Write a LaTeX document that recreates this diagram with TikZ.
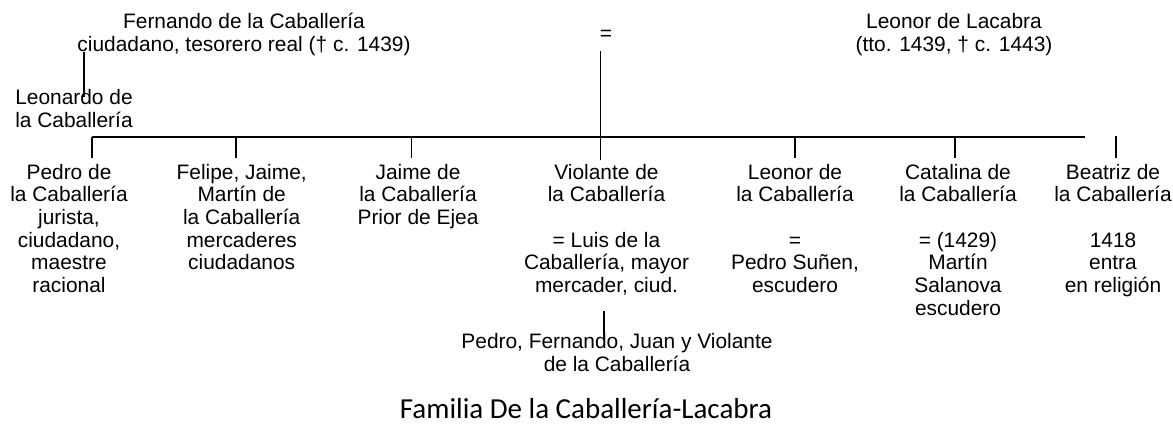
\documentclass[tikz,border=0pt]{standalone}
\usepackage{fontspec}
\setmainfont{Liberation Sans}
\newfontfamily\titlefont{Carlito}

\begin{document}
\begin{tikzpicture}[x=0.02cm, y=-0.02cm,
  person/.style={anchor=base, align=center, inner sep=0pt,
    font=\fontsize{11.9}{12.9}\selectfont},
  link/.style={black, line width=1.1pt}]
\useasboundingbox (0,0) rectangle (1173,432);
% --- parents (nodes sit on the baseline of their last line) ---
\node[person] (fernando) at (244,51.5) {Fernando de la Caballería\\ciudadano, tesorero real († c. 1439)};
\node[person] (lacabra) at (954,51.5) {Leonor de Lacabra\\(tto. 1439, † c. 1443)};
\node[person] (eq) at (606,41) {=};
\coordinate (eq-foot) at (600.5,51);
\coordinate (bar-mid) at (600.5,137);
\coordinate (bar-l) at (92,137);
\coordinate (bar-r) at (1085,137);
\draw[link] (eq-foot) -- (bar-mid);
\draw[link] (bar-l) -- (bar-r);
% --- Leonardo ---
\node[person] (leonardo) at (74,127.5) {Leonardo de\\la Caballería};
\coordinate (leo-top) at (84.3,52);
\coordinate (leo-end) at (84.3,97);
\draw[link] (leo-top) -- (leo-end);
% --- children ---
\node[person] (pedro) at (69,292.5) {Pedro de\\la Caballería\\jurista,\\ciudadano,\\maestre\\racional};
\node[person] (felipe) at (241.7,269.8) {Felipe, Jaime,\\Martín de\\la Caballería\\mercaderes\\ciudadanos};
\node[person] (jaime) at (418,224.4) {Jaime de\\la Caballería\\Prior de Ejea};
\node[person] (violante) at (606.5,292.5) {Violante de\\la Caballería\\[12.9pt]= Luis de la\\Caballería, mayor\\mercader, ciud.};
\node[person] (leonor) at (795,292.5) {Leonor de\\la Caballería\\[12.9pt]=\\Pedro Suñen,\\escudero};
\node[person] (catalina) at (958,315.2) {Catalina de\\la Caballería\\[12.9pt]= (1429)\\Martín\\Salanova\\escudero};
\node[person] (beatriz) at (1113,292.5) {Beatriz de\\la Caballería\\[12.9pt]1418\\entra\\en religión};
\coordinate (d-pedro) at (92,158);
\coordinate (d-felipe) at (236,158);
\coordinate (d-jaime) at (411.5,158);
\coordinate (d-violante) at (600.5,160);
\coordinate (d-leonor) at (795.3,158);
\coordinate (d-catalina) at (955.2,158);
\coordinate (b-top) at (1116,136);
\coordinate (b-end) at (1116,158);
\draw[link] (d-pedro |- bar-l) -- (d-pedro);
\draw[link] (d-felipe |- bar-l) -- (d-felipe);
\draw[link] (d-jaime |- bar-l) -- (d-jaime);
\draw[link] (bar-mid) -- (d-violante);
\draw[link] (d-leonor |- bar-l) -- (d-leonor);
\draw[link] (d-catalina |- bar-l) -- (d-catalina);
\draw[link] (b-top) -- (b-end);
% --- grandchildren ---
\node[person] (nietos) at (617,371.5) {Pedro, Fernando, Juan y Violante\\de la Caballería};
\coordinate (v-top) at (604,311);
\coordinate (v-end) at (604,340);
\draw[link] (v-top) -- (v-end);
% --- title ---
\node[anchor=base, inner sep=0pt, font=\titlefont\fontsize{16.5}{18}\selectfont] (title) at (586,418) {Familia De la Caballería-Lacabra};
\end{tikzpicture}
\end{document}
